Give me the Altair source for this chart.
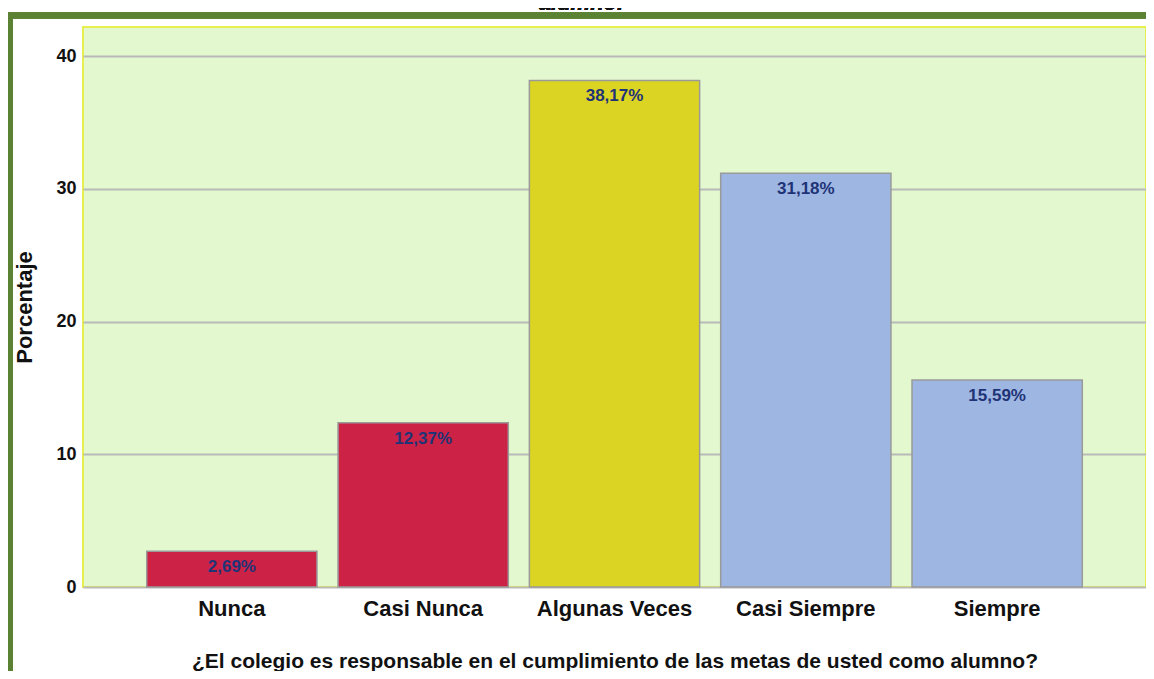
import altair as alt
import pandas as pd

categories = ["Nunca", "Casi Nunca", "Algunas Veces", "Casi Siempre", "Siempre"]
values = [2.69, 12.37, 38.17, 31.18, 15.59]
labels = ["2,69%", "12,37%", "38,17%", "31,18%", "15,59%"]
bar_colors = ["#cc2246", "#cc2246", "#dcd422", "#9db6e2", "#9db6e2"]
y_ticks = [0, 10, 20, 30, 40]
title_text = "alumno."
x_title = "¿El colegio es responsable en el cumplimiento de las metas de usted como alumno?"
y_title = "Porcentaje"

df = pd.DataFrame({"cat": categories, "val": values, "lab": labels, "col": bar_colors})

W, H = 1063, 560
FONT = "Liberation Sans"

x_enc = alt.X(
    "cat:N", sort=categories, title=x_title,
    scale=alt.Scale(paddingInner=0.11, paddingOuter=0.333),
    axis=alt.Axis(labelAngle=0, labelFontSize=22, labelFont=FONT, labelFontWeight="bold",
                  labelColor="#111", labelPadding=11, ticks=False, domain=False,
                  titleFontSize=21, titleFont=FONT, titleFontWeight="bold",
                  titleColor="#111", titlePadding=31),
)
y_enc = alt.Y(
    "val:Q", title=y_title,
    scale=alt.Scale(domain=[0, 42.2], nice=False),
    axis=alt.Axis(values=y_ticks, labelFontSize=18, labelFont=FONT, labelFontWeight="bold",
                  labelColor="#111", labelPadding=7, ticks=False, domain=False,
                  grid=True, gridColor="#b9b9b9", gridWidth=2,
                  titleFontSize=22, titleFont=FONT, titleFontWeight="bold",
                  titleColor="#111", titlePadding=19),
)

bars = alt.Chart(df).mark_bar(stroke="#9a9a9a", strokeWidth=1.5).encode(
    x=x_enc, y=y_enc, fill=alt.Fill("col:N", scale=None)
)

text = alt.Chart(df).mark_text(
    baseline="top", dy=8, fontSize=17, font=FONT, fontWeight="bold", color="#1f3377"
).encode(x=alt.X("cat:N", sort=categories), y="val:Q", text="lab:N")

frame = alt.Chart(df).mark_rect(
    fill=None, stroke="#5b8233", strokeWidth=6, clip=False
).encode(
    x=alt.value(-73), x2=alt.value(W + 10),
    y=alt.value(-11.5), y2=alt.value(H + 90)
)

title_mark = alt.Chart(df).mark_text(
    fontSize=22, font=FONT, fontWeight="bold", fontStyle="italic",
    baseline="alphabetic", align="center", color="#111"
).encode(x=alt.value(498), y=alt.value(-17), text=alt.value(title_text))

chart = alt.layer(bars, text, frame, title_mark).properties(
    width=W, height=H,
    padding={"left": 75, "top": 19, "right": 0, "bottom": 84},
    autosize=alt.AutoSizeParams(type="none"),
    background="white",
).configure_view(
    fill="#e3f8cf", stroke="#e6ee50", strokeWidth=2
)

chart.save("out.html", embed_options={"renderer": "svg", "actions": False})
